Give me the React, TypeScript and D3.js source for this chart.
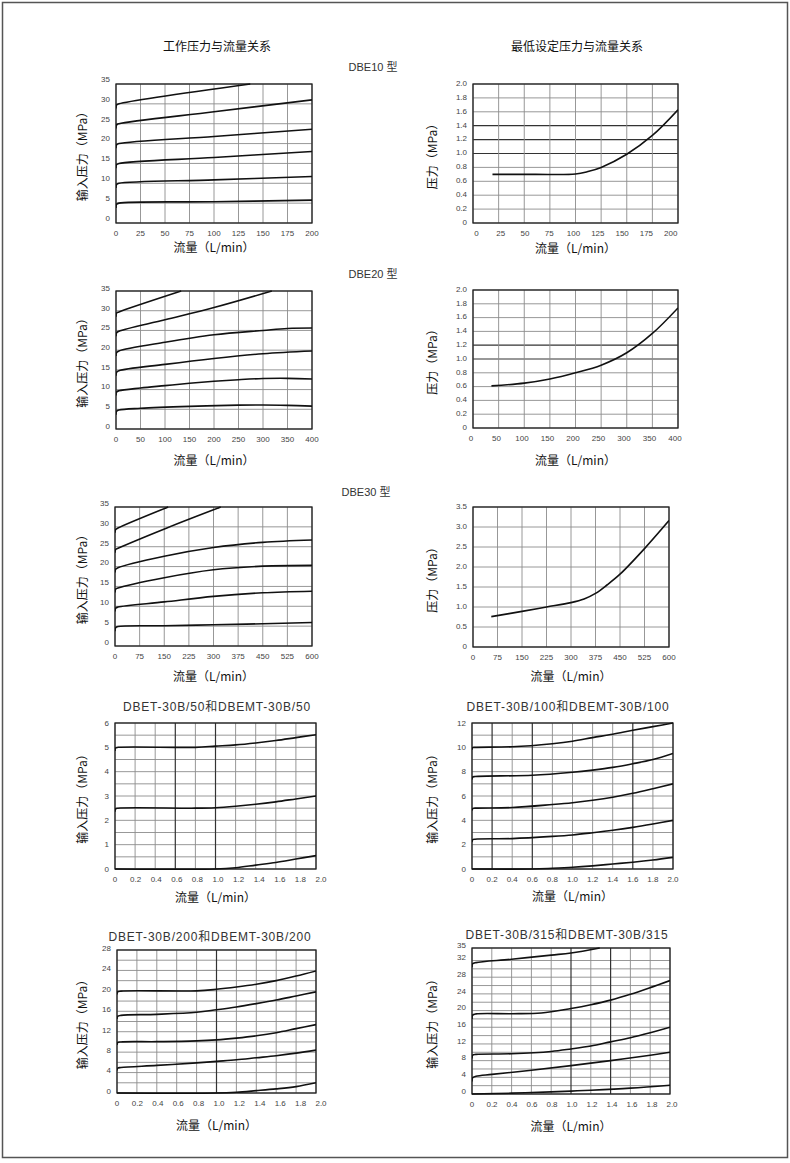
import * as d3 from "d3";

type Pt = [number, number];

// flow (L/min) vs pressure (MPa)
const dbe10Work: Pt[][] = [
  [[0, 3.8], [0.6, 4.7], [3, 5.0], [100, 5.35], [200, 5.75]],
  [[0, 8.8], [0.6, 9.7], [3, 10.0], [100, 10.85], [200, 11.7]],
  [[0, 13.8], [0.6, 14.7], [3, 15.0], [100, 16.5], [200, 18.0]],
  [[0, 18.8], [0.6, 19.7], [3, 20.0], [100, 21.8], [200, 23.6]],
  [[0, 23.8], [0.6, 24.7], [3, 25.0], [100, 28.0], [200, 31.0]],
  [[0, 28.8], [0.6, 29.7], [3, 30.0], [137, 35]],
];
const dbe10Min: Pt[] = [
  [19, 0.7], [60, 0.7], [100, 0.705], [112, 0.74], [125, 0.8], [150, 0.99], [175, 1.26], [200, 1.63],
];

const dbe20Work: Pt[][] = [
  [[0, 3.6], [1.2, 4.5], [6, 4.8], [50, 5.25], [150, 5.75], [250, 6.05], [300, 6.1], [350, 6.0], [400, 5.8]],
  [[0, 8.5], [1.2, 9.4], [6, 9.7], [50, 10.4], [100, 11.0], [150, 11.6], [200, 12.1], [250, 12.5], [300, 12.8], [350, 12.85], [400, 12.7]],
  [[0, 13.5], [1.2, 14.4], [6, 14.8], [100, 16.4], [200, 17.9], [300, 19.1], [400, 19.8]],
  [[0, 18.5], [1.2, 19.4], [6, 19.8], [100, 22.0], [200, 23.9], [300, 25.0], [350, 25.5], [400, 25.6]],
  [[0, 23.5], [1.2, 24.4], [6, 24.8], [100, 27.7], [200, 30.8], [318, 35]],
  [[0, 28.5], [1.2, 29.4], [6, 29.7], [133, 35]],
];
const dbe20Min: Pt[] = [
  [36, 0.61], [100, 0.65], [150, 0.71], [200, 0.8], [250, 0.91], [300, 1.09], [350, 1.37], [400, 1.74],
];

const dbe30Work: Pt[][] = [
  [[0, 3.7], [1.8, 4.6], [9, 4.9], [150, 5.1], [300, 5.35], [450, 5.6], [600, 5.9]],
  [[0, 8.7], [1.8, 9.5], [9, 9.8], [150, 11.1], [300, 12.5], [450, 13.4], [600, 13.8]],
  [[0, 13.5], [1.8, 14.3], [9, 14.6], [150, 17.2], [300, 19.2], [450, 20.1], [600, 20.3]],
  [[0, 18.5], [1.8, 19.3], [9, 19.7], [150, 22.6], [300, 24.8], [450, 26.1], [600, 26.7]],
  [[0, 23.5], [1.8, 24.3], [9, 24.6], [160, 29.8], [322, 35]],
  [[0, 28.5], [1.8, 29.3], [9, 29.7], [162, 35]],
];
const dbe30Min: Pt[] = [
  [56, 0.76], [150, 0.89], [225, 1.0], [300, 1.11], [340, 1.2], [375, 1.34], [410, 1.55], [450, 1.82], [525, 2.46], [600, 3.16],
];

const dbet50: Pt[][] = [
  [[0, 0], [1.0, 0], [1.2, 0.05], [1.4, 0.16], [1.6, 0.27], [1.8, 0.41], [2.0, 0.55]],
  [[0, 2.35], [0.006, 2.47], [0.03, 2.5], [0.8, 2.5], [1.0, 2.52], [1.2, 2.58], [1.4, 2.66], [1.6, 2.76], [1.8, 2.88], [2.0, 3.0]],
  [[0, 4.85], [0.006, 4.97], [0.03, 5.0], [0.8, 5.0], [1.0, 5.05], [1.2, 5.1], [1.4, 5.18], [1.6, 5.28], [1.8, 5.4], [2.0, 5.52]],
];
const dbet100: Pt[][] = [
  [[0, 0], [0.6, 0], [0.8, 0.06], [1.0, 0.14], [1.2, 0.26], [1.4, 0.41], [1.6, 0.56], [1.8, 0.74], [2.0, 0.96]],
  [[0, 2.2], [0.006, 2.4], [0.03, 2.45], [0.4, 2.5], [0.8, 2.68], [1.0, 2.8], [1.2, 2.98], [1.4, 3.18], [1.6, 3.42], [1.8, 3.7], [2.0, 4.0]],
  [[0, 4.8], [0.006, 4.97], [0.03, 5.0], [0.4, 5.05], [0.8, 5.3], [1.0, 5.45], [1.2, 5.65], [1.4, 5.9], [1.6, 6.22], [1.8, 6.6], [2.0, 7.0]],
  [[0, 7.35], [0.006, 7.55], [0.03, 7.6], [0.6, 7.7], [1.0, 7.95], [1.2, 8.13], [1.4, 8.35], [1.6, 8.65], [1.8, 9.0], [2.0, 9.5]],
  [[0, 9.8], [0.006, 9.97], [0.03, 10.0], [0.4, 10.05], [0.8, 10.3], [1.0, 10.5], [1.2, 10.8], [1.4, 11.08], [1.6, 11.4], [1.8, 11.7], [2.0, 12.0]],
];
const dbet200: Pt[][] = [
  [[0, 0], [1.0, 0], [1.2, 0.15], [1.4, 0.46], [1.6, 0.8], [1.8, 1.25], [2.0, 2.0]],
  [[0, 4.4], [0.006, 4.85], [0.04, 5.0], [0.4, 5.4], [0.8, 5.9], [1.0, 6.2], [1.2, 6.5], [1.4, 6.9], [1.6, 7.3], [1.8, 7.8], [2.0, 8.4]],
  [[0, 9.4], [0.006, 9.85], [0.04, 10.0], [0.4, 10.05], [0.8, 10.2], [1.0, 10.4], [1.2, 10.75], [1.4, 11.2], [1.6, 11.8], [1.8, 12.6], [2.0, 13.4]],
  [[0, 14.5], [0.006, 15.0], [0.04, 15.2], [0.4, 15.4], [0.8, 15.8], [1.0, 16.3], [1.2, 16.85], [1.4, 17.5], [1.6, 18.2], [1.8, 19.0], [2.0, 19.8]],
  [[0, 19.3], [0.006, 19.8], [0.04, 19.95], [0.8, 20.0], [1.0, 20.3], [1.2, 20.75], [1.4, 21.3], [1.6, 22.0], [1.8, 22.9], [2.0, 23.9]],
];
const dbet315: Pt[][] = [
  [[0, 0], [0.4, 0.2], [0.8, 0.5], [1.0, 0.7], [1.2, 0.9], [1.6, 1.4], [2.0, 2.1]],
  [[0, 3.0], [0.006, 3.9], [0.04, 4.25], [0.2, 4.7], [0.6, 5.7], [1.0, 6.8], [1.4, 8.0], [1.8, 9.3], [2.0, 10.0]],
  [[0, 8.5], [0.006, 9.3], [0.04, 9.5], [0.4, 9.65], [0.8, 10.2], [1.0, 10.8], [1.2, 11.5], [1.4, 12.5], [1.6, 13.5], [1.8, 14.7], [2.0, 16.0]],
  [[0, 18.0], [0.006, 18.9], [0.04, 19.2], [0.4, 19.25], [0.7, 19.4], [1.0, 20.5], [1.2, 21.4], [1.4, 22.5], [1.6, 23.9], [1.8, 25.5], [2.0, 27.2]],
  [[0, 30.4], [0.006, 31.2], [0.04, 31.5], [0.4, 32.3], [0.8, 33.3], [1.0, 33.8], [1.29, 35]],
];

// tick labels
const flow200Ticks = [0, 25, 50, 75, 100, 125, 150, 175, 200];
const flow400Ticks = [0, 50, 100, 150, 200, 250, 300, 350, 400];
const flow600Ticks = [0, 75, 150, 225, 300, 375, 450, 525, 600];
const flowSmallTicks = [0, 0.2, 0.4, 0.6, 0.8, 1.0, 1.2, 1.4, 1.6, 1.8, 2.0];
const press35Ticks = [0, 5, 10, 15, 20, 25, 30, 35];
const press2Ticks = [0, 0.2, 0.4, 0.6, 0.8, 1.0, 1.2, 1.4, 1.6, 1.8, 2.0];
const press35bTicks = [0, 0.5, 1.0, 1.5, 2.0, 2.5, 3.0, 3.5];
const dbet50Ticks = [0, 1, 2, 3, 4, 5, 6];
const dbet50Grid = [0, 0.5, 1, 1.5, 2, 2.5, 3, 3.5, 4, 4.5, 5, 5.5, 6];
const dbet100Ticks = [0, 2, 4, 6, 8, 10, 12];
const dbet100Grid = [0, 1, 2, 3, 4, 5, 6, 7, 8, 9, 10, 11, 12];
const dbet200Ticks = [0, 4, 8, 12, 16, 20, 24, 28];
const dbet200Grid = [0, 2, 4, 6, 8, 10, 12, 14, 16, 18, 20, 22, 24, 26, 28];
const dbet315Ticks = [0, 4, 8, 12, 16, 20, 24, 28, 32, 35];
const dbet315Grid = [0, 2, 4, 6, 8, 10, 12, 14, 16, 18, 20, 22, 24, 26, 28, 30, 32, 35];

const CJK = "'Noto Sans CJK SC', 'Noto Sans', sans-serif";
const NUM = "'Liberation Sans', Arial, sans-serif";
const SUB = "'Liberation Sans', Arial, 'Noto Sans CJK SC', sans-serif";

const fmtInt = (v: number) => String(v);
const fmtDec = (v: number) => (v === 0 ? "0" : v.toFixed(1));

interface PanelProps {
  id: string;
  box: { x0: number; x1: number; y0: number; y1: number };
  xDomain: [number, number];
  yDomain: [number, number];
  xTicks: number[];
  yTicks: number[];
  yGrid?: number[];
  xFmt: (v: number) => string;
  yFmt: (v: number) => string;
  curves: Pt[][];
  yTitle: string;
  yTitleX: number;
  xTitleDy: number;
  xLabelShift?: [number, number];
  yLabelDy?: number;
  darkX?: number[];
  darkY?: number[];
}

function Panel(p: PanelProps) {
  const { box } = p;
  const x = d3.scaleLinear().domain(p.xDomain).range([box.x0, box.x1]);
  const y = d3.scaleLinear().domain(p.yDomain).range([box.y1, box.y0]);
  const shift = p.xLabelShift || [0, 0];
  const xl = d3.scaleLinear().domain(p.xDomain).range([box.x0 + shift[0], box.x1 + shift[1]]);
  const line = d3
    .line<Pt>()
    .x((d) => x(d[0]))
    .y((d) => y(d[1]))
    .curve(d3.curveCatmullRom.alpha(0.5));
  const grid = p.yGrid || p.yTicks;
  const darkX = p.darkX || [];
  const darkY = p.darkY || [];
  const cx = (box.x0 + box.x1) / 2;
  const cy = (box.y0 + box.y1) / 2;
  return (
    <g>
      <defs>
        <clipPath id={p.id}>
          <rect x={box.x0} y={box.y0 - 1} width={box.x1 - box.x0} height={box.y1 - box.y0 + 2} />
        </clipPath>
      </defs>
      {grid.map((v) => (
        <line
          key={"h" + v}
          x1={box.x0}
          x2={box.x1}
          y1={y(v)}
          y2={y(v)}
          stroke={darkY.includes(v) ? "#333" : "#8c8c8c"}
          strokeWidth={darkY.includes(v) ? 1.2 : 0.9}
        />
      ))}
      {p.xTicks.map((v) => (
        <line
          key={"v" + v}
          x1={x(v)}
          x2={x(v)}
          y1={box.y0}
          y2={box.y1}
          stroke={darkX.includes(v) ? "#333" : "#8c8c8c"}
          strokeWidth={darkX.includes(v) ? 1.2 : 0.9}
        />
      ))}
      <rect
        x={box.x0}
        y={box.y0}
        width={box.x1 - box.x0}
        height={box.y1 - box.y0}
        fill="none"
        stroke="#222"
        strokeWidth={1.3}
      />
      <g clipPath={`url(#${p.id})`}>
        {p.curves.map((c, i) => (
          <path key={i} d={line(c) || ""} fill="none" stroke="#111" strokeWidth={1.6} />
        ))}
      </g>
      {p.yTicks.map((v) => (
        <text
          key={"yl" + v}
          x={box.x0 - 6}
          y={y(v) + (p.yLabelDy || 0)}
          dy="0.35em"
          textAnchor="end"
          fontSize={8}
          fontFamily={NUM}
          fill="#444"
        >
          {p.yFmt(v)}
        </text>
      ))}
      {p.xTicks.map((v) => (
        <text
          key={"xl" + v}
          x={xl(v)}
          y={box.y1 + 10}
          dy="0.35em"
          textAnchor="middle"
          fontSize={8}
          fontFamily={NUM}
          fill="#444"
        >
          {p.xFmt(v)}
        </text>
      ))}
      <text
        x={cx}
        y={box.y1 + p.xTitleDy}
        dy="0.35em"
        textAnchor="middle"
        fontSize={12}
        fontFamily={CJK}
        fill="#111"
      >
        流量（L/min）
      </text>
      <text
        transform={`translate(${p.yTitleX},${cy}) rotate(-90)`}
        dy="0.35em"
        textAnchor="middle"
        fontSize={12}
        fontFamily={CJK}
        fill="#111"
      >
        {p.yTitle}
      </text>
    </g>
  );
}

const IN_P = "输入压力（MPa）";
const P = "压力（MPa）";

export default function App() {
  const W = 790;
  const H = 1163;
  return (
    <svg
      width={W}
      height={H}
      viewBox={`0 0 ${W} ${H}`}
      style={{ position: "absolute", left: 0, top: 0, display: "block", background: "#fff" }}
    >
      <rect x={2.5} y={2.5} width={W - 5} height={1155} fill="none" stroke="#555" strokeWidth={1.5} />

      <text x={217} y={47} dy="0.35em" textAnchor="middle" fontSize={12} fontFamily={CJK} fill="#111">
        工作压力与流量关系
      </text>
      <text x={577} y={47} dy="0.35em" textAnchor="middle" fontSize={12} fontFamily={CJK} fill="#111">
        最低设定压力与流量关系
      </text>
      <text x={373} y={67} dy="0.35em" textAnchor="middle" fontSize={11} fontFamily={SUB} fill="#333">
        DBE10 型
      </text>
      <text x={373} y={274} dy="0.35em" textAnchor="middle" fontSize={11} fontFamily={SUB} fill="#333">
        DBE20 型
      </text>
      <text x={366} y={492} dy="0.35em" textAnchor="middle" fontSize={11} fontFamily={SUB} fill="#333">
        DBE30 型
      </text>
      <text x={217} y={707} dy="0.35em" textAnchor="middle" fontSize={12} letterSpacing={0.8} fontFamily={SUB} fill="#333">
        DBET-30B/50和DBEMT-30B/50
      </text>
      <text x={568} y={707} dy="0.35em" textAnchor="middle" fontSize={12} letterSpacing={0.8} fontFamily={SUB} fill="#333">
        DBET-30B/100和DBEMT-30B/100
      </text>
      <text x={210} y={937} dy="0.35em" textAnchor="middle" fontSize={12} letterSpacing={0.8} fontFamily={SUB} fill="#333">
        DBET-30B/200和DBEMT-30B/200
      </text>
      <text x={567} y={935} dy="0.35em" textAnchor="middle" fontSize={12} letterSpacing={0.8} fontFamily={SUB} fill="#333">
        DBET-30B/315和DBEMT-30B/315
      </text>

      <Panel
        id="c1"
        box={{ x0: 116, x1: 312, y0: 84, y1: 223 }}
        xDomain={[0, 200]}
        yDomain={[0, 35]}
        xTicks={flow200Ticks}
        yTicks={press35Ticks}
        xFmt={fmtInt}
        yFmt={fmtInt}
        curves={dbe10Work}
        yTitle={IN_P}
        yTitleX={83}
        xTitleDy={25}
        yLabelDy={-5}
      />
      <Panel
        id="c2"
        box={{ x0: 473, x1: 678, y0: 84, y1: 223 }}
        xDomain={[0, 200]}
        yDomain={[0, 2]}
        xTicks={flow200Ticks}
        yTicks={press2Ticks}
        xFmt={fmtInt}
        yFmt={fmtDec}
        curves={[dbe10Min]}
        yTitle={P}
        yTitleX={433}
        xTitleDy={26}
        xLabelShift={[3.4, -7.3]}
        yLabelDy={-1}
        darkY={[1.0, 1.2, 1.4]}
      />
      <Panel
        id="c3"
        box={{ x0: 116, x1: 312, y0: 291, y1: 429 }}
        xDomain={[0, 400]}
        yDomain={[0, 35]}
        xTicks={flow400Ticks}
        yTicks={press35Ticks}
        xFmt={fmtInt}
        yFmt={fmtInt}
        curves={dbe20Work}
        yTitle={IN_P}
        yTitleX={83}
        xTitleDy={32}
        yLabelDy={-3}
      />
      <Panel
        id="c4"
        box={{ x0: 473, x1: 678, y0: 290, y1: 428 }}
        xDomain={[0, 400]}
        yDomain={[0, 2]}
        xTicks={flow400Ticks}
        yTicks={press2Ticks}
        xFmt={fmtInt}
        yFmt={fmtDec}
        curves={[dbe20Min]}
        yTitle={P}
        yTitleX={433}
        xTitleDy={33}
        xLabelShift={[-2, -3]}
        yLabelDy={-1}
        darkY={[1.0, 1.2]}
      />
      <Panel
        id="c5"
        box={{ x0: 115, x1: 312, y0: 507, y1: 646 }}
        xDomain={[0, 600]}
        yDomain={[0, 35]}
        xTicks={flow600Ticks}
        yTicks={press35Ticks}
        xFmt={fmtInt}
        yFmt={fmtInt}
        curves={dbe30Work}
        yTitle={IN_P}
        yTitleX={83}
        xTitleDy={31}
        yLabelDy={-4}
      />
      <Panel
        id="c6"
        box={{ x0: 473, x1: 669, y0: 507, y1: 647 }}
        xDomain={[0, 600]}
        yDomain={[0, 3.5]}
        xTicks={flow600Ticks}
        yTicks={press35bTicks}
        xFmt={fmtInt}
        yFmt={fmtDec}
        curves={[dbe30Min]}
        yTitle={P}
        yTitleX={433}
        xTitleDy={30}
        yLabelDy={-1}
      />
      <Panel
        id="c7"
        box={{ x0: 115, x1: 316, y0: 723, y1: 869 }}
        xDomain={[0, 2]}
        yDomain={[0, 6]}
        xTicks={flowSmallTicks}
        yTicks={dbet50Ticks}
        yGrid={dbet50Grid}
        xFmt={fmtDec}
        yFmt={fmtInt}
        curves={dbet50}
        yTitle={IN_P}
        yTitleX={83}
        xTitleDy={29}
        xLabelShift={[0, 5]}
        darkX={[0.6, 1.0]}
      />
      <Panel
        id="c8"
        box={{ x0: 472, x1: 673, y0: 723, y1: 869 }}
        xDomain={[0, 2]}
        yDomain={[0, 12]}
        xTicks={flowSmallTicks}
        yTicks={dbet100Ticks}
        yGrid={dbet100Grid}
        xFmt={fmtDec}
        yFmt={fmtInt}
        curves={dbet100}
        yTitle={IN_P}
        yTitleX={433}
        xTitleDy={28}
        darkX={[0.2, 0.6, 1.6]}
      />
      <Panel
        id="c9"
        box={{ x0: 117, x1: 316, y0: 950, y1: 1093 }}
        xDomain={[0, 2]}
        yDomain={[0, 28]}
        xTicks={flowSmallTicks}
        yTicks={dbet200Ticks}
        yGrid={dbet200Grid}
        xFmt={fmtDec}
        yFmt={fmtInt}
        curves={dbet200}
        yTitle={IN_P}
        yTitleX={83}
        xTitleDy={33}
        xLabelShift={[0, 5]}
        yLabelDy={-2}
        darkX={[1.0]}
      />
      <Panel
        id="c10"
        box={{ x0: 472, x1: 670, y0: 948, y1: 1094 }}
        xDomain={[0, 2]}
        yDomain={[0, 35]}
        xTicks={flowSmallTicks}
        yTicks={dbet315Ticks}
        yGrid={dbet315Grid}
        xFmt={fmtDec}
        yFmt={fmtInt}
        curves={dbet315}
        yTitle={IN_P}
        yTitleX={433}
        xTitleDy={33}
        xLabelShift={[0, 2]}
        yLabelDy={-3}
        darkX={[1.0, 1.4]}
      />
    </svg>
  );
}
